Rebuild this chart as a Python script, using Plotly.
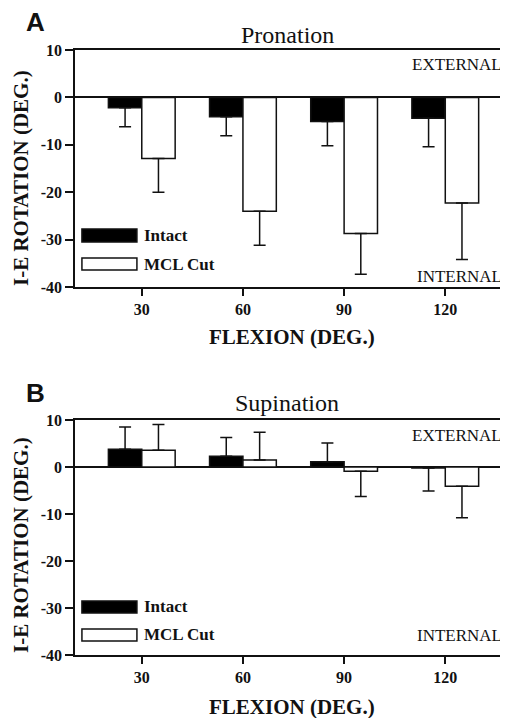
import plotly.graph_objects as go

flexion = ["30", "60", "90", "120"]

# Panel A: Pronation
pro_intact = [-2.2, -4.1, -5.1, -4.4]
pro_intact_sd = [4.0, 4.0, 5.1, 6.0]
pro_mcl = [-12.9, -24.0, -28.7, -22.3]
pro_mcl_sd = [7.1, 7.2, 8.6, 11.9]

# Panel B: Supination
sup_intact = [3.8, 2.3, 1.1, -0.2]
sup_intact_sd = [4.7, 4.0, 4.0, 4.9]
sup_mcl = [3.55, 1.5, -0.9, -4.1]
sup_mcl_sd = [5.5, 5.9, 5.4, 6.7]

y_ticks = [10, 0, -10, -20, -30, -40]
y_ticklabels = ["10", "0", "-10", "-20", "-30", "-40"]

SERIF = "Liberation Serif, Times New Roman, serif"
SANS = "Liberation Sans, Arial, sans-serif"

# page body has an 8px margin; figure is sized to fill the rest of the window
OFF = 8
W, H = 508 - OFF, 718 - OFF


def px(x):
    return (x - OFF) / W


def py(y):
    return 1 - (y - OFF) / H


def one_sided(vals, sd):
    plus = [s if v >= 0 else 0 for v, s in zip(vals, sd)]
    minus = [s if v < 0 else 0 for v, s in zip(vals, sd)]
    return plus, minus


def bar_trace(vals, sd, name, fill, xa, ya):
    plus, minus = one_sided(vals, sd)
    return go.Bar(
        x=flexion, y=vals, name=name, xaxis=xa, yaxis=ya,
        marker=dict(color=fill, line=dict(color="#111111", width=1.5)),
        error_y=dict(type="data", symmetric=False, array=plus, arrayminus=minus,
                     color="#111111", thickness=1.5, width=6),
        showlegend=False,
    )


fig = go.Figure()
fig.add_trace(bar_trace(pro_intact, pro_intact_sd, "Intact", "#000000", "x", "y"))
fig.add_trace(bar_trace(pro_mcl, pro_mcl_sd, "MCL Cut", "#ffffff", "x", "y"))
fig.add_trace(bar_trace(sup_intact, sup_intact_sd, "Intact", "#000000", "x2", "y2"))
fig.add_trace(bar_trace(sup_mcl, sup_mcl_sd, "MCL Cut", "#ffffff", "x2", "y2"))

xdom = [px(75), 1.0]
ydomA = [py(287), py(50)]
ydomB = [py(655), py(420)]

tickfont = dict(family=SERIF, size=16, color="#111111")


def bold(labels):
    return ["<b>%s</b>" % t for t in labels]


xcommon = dict(
    type="category", range=[-0.66, 3.62], showline=True, linecolor="#111111",
    linewidth=1.5, mirror=True, ticks="outside", ticklen=7, tickwidth=1.5,
    tickcolor="#111111", tickfont=tickfont, showgrid=False, zeroline=False,
    automargin=False, tickmode="array", tickvals=flexion, ticktext=bold(flexion),
)
ycommon = dict(
    range=[-40, 10], tickmode="array", tickvals=y_ticks, ticktext=bold(y_ticklabels),
    showline=True, linecolor="#111111",
    linewidth=1.5, ticks="outside", ticklen=8, tickwidth=1.5, tickcolor="#111111",
    tickfont=tickfont, showgrid=False, zeroline=True, zerolinecolor="#111111",
    zerolinewidth=1.5, automargin=False,
)

fig.update_layout(
    width=W, height=H,
    margin=dict(l=0, r=0, t=0, b=0, pad=0),
    paper_bgcolor="white", plot_bgcolor="white",
    barmode="group", bargap=0.34, bargroupgap=0,
    xaxis=dict(domain=xdom, anchor="y", **xcommon),
    yaxis=dict(domain=ydomA, anchor="x", **ycommon),
    xaxis2=dict(domain=xdom, anchor="y2", **xcommon),
    yaxis2=dict(domain=ydomB, anchor="x2", **ycommon),
)

ann = []
shapes = []


def panel_texts(letter, title, ay_center, title_y, letter_y, xt_y, yref_dom, xref_dom,
                ext_y, int_y, leg_int, leg_mcl):
    ann.append(dict(text=letter, x=px(35), y=py(letter_y), xref="paper", yref="paper",
                    xanchor="center", yanchor="middle", showarrow=False,
                    font=dict(family=SANS, size=26, color="#111111", weight="bold")))
    ann.append(dict(text=title, x=px(287), y=py(title_y), xref="paper", yref="paper",
                    xanchor="center", yanchor="middle", showarrow=False,
                    font=dict(family=SERIF, size=24, color="#111111")))
    ann.append(dict(text="FLEXION (DEG.)", x=px(292), y=py(xt_y), xref="paper", yref="paper",
                    xanchor="center", yanchor="middle", showarrow=False,
                    font=dict(family=SERIF, size=21, color="#111111", weight="bold")))
    ann.append(dict(text="I-E ROTATION (DEG.)", x=px(21), y=py(ay_center), xref="paper",
                    yref="paper", textangle=-90, xanchor="center", yanchor="middle",
                    showarrow=False,
                    font=dict(family=SERIF, size=21, color="#111111", weight="bold")))
    ann.append(dict(text="EXTERNAL", x=0.99, y=ext_y, xref=xref_dom, yref=yref_dom,
                    xanchor="right", yanchor="middle", showarrow=False,
                    font=dict(family=SERIF, size=17, color="#111111")))
    ann.append(dict(text="INTERNAL", x=0.99, y=int_y, xref=xref_dom, yref=yref_dom,
                    xanchor="right", yanchor="middle", showarrow=False,
                    font=dict(family=SERIF, size=17, color="#111111")))
    for (y0, y1), label, fill in [(leg_int, "Intact", "#000000"), (leg_mcl, "MCL Cut", "#ffffff")]:
        shapes.append(dict(type="rect", xref=xref_dom, yref=yref_dom, x0=0.016, x1=0.143,
                           y0=y0, y1=y1, fillcolor=fill, line=dict(color="#111111", width=1.5)))
        ann.append(dict(text=label, x=0.155, y=(y0 + y1) / 2, xref=xref_dom, yref=yref_dom,
                        xanchor="left", yanchor="middle", showarrow=False,
                        font=dict(family=SERIF, size=17, color="#111111", weight="bold")))


panel_texts("A", "Pronation", 178, 35, 22, 337, "y domain", "x domain",
            0.937, 0.046, (0.19, 0.245), (0.072, 0.122))
panel_texts("B", "Supination", 545, 403, 393, 707, "y2 domain", "x2 domain",
            0.932, 0.081, (0.179, 0.23), (0.06, 0.111))

fig.update_layout(annotations=ann, shapes=shapes)

fig.write_html("out.html")
